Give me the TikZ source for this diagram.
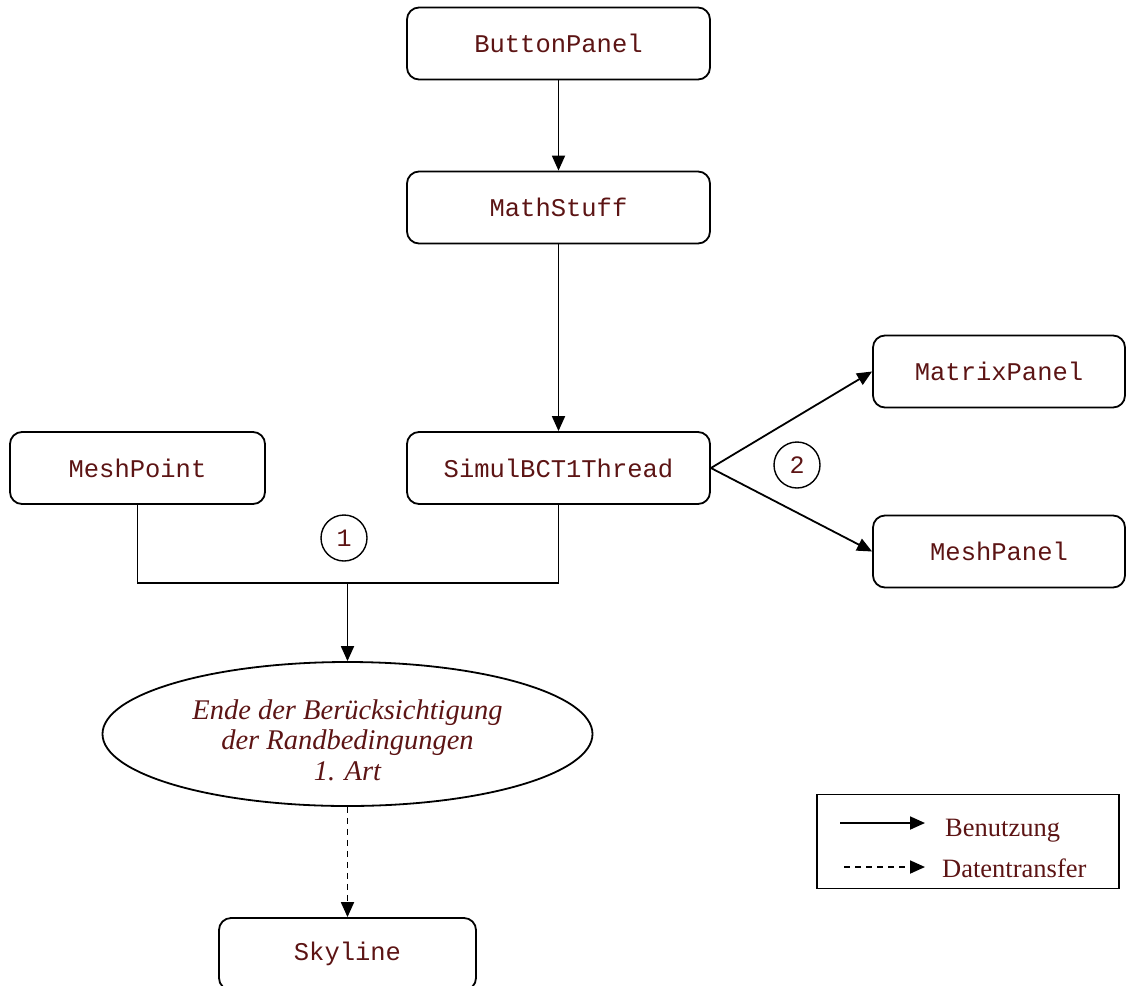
\documentclass[tikz,border=0pt]{standalone}
\usepackage{fontspec}
\setmainfont{Liberation Serif}
\newfontfamily\codefont{Liberation Mono}
\usetikzlibrary{arrows.meta,shapes.geometric}
\definecolor{txt}{HTML}{5C1414}
\begin{document}
\begin{tikzpicture}[x=1pt,y=-1pt,
  cls/.style={draw,line width=1.8pt,rounded corners=12pt,minimum height=72pt,
    inner sep=0pt,text=txt,font=\codefont\fontsize{25.5}{30}\selectfont},
  num/.style={draw,circle,line width=1.4pt,minimum size=46pt,inner sep=0pt,
    text=txt,font=\codefont\fontsize{25}{30}\selectfont},
  uses/.style={line width=1.8pt,-{Triangle[length=15pt,width=13pt]}},
  flow/.style={uses,dash pattern=on 6pt off 5pt},
  legtext/.style={anchor=base west,text=txt,font=\fontsize{26.5}{30}\selectfont,inner sep=0pt}]
\useasboundingbox (0,0) rectangle (1126,985);

% class boxes
\node[cls,minimum width=303pt] (bp)  at (558.5,43.5)  {ButtonPanel};
\node[cls,minimum width=303pt] (ms)  at (558.5,207.5) {MathStuff};
\node[cls,minimum width=303pt] (sim) at (558.5,468)   {SimulBCT1Thread};
\node[cls,minimum width=255pt] (mp)  at (137.5,468)   {MeshPoint};
\node[cls,minimum width=252pt] (mat) at (999,371.5)   {MatrixPanel};
\node[cls,minimum width=252pt] (mpn) at (999,551.5)   {MeshPanel};
\node[cls,minimum width=257pt] (sky) at (347.5,954)   {Skyline};

% end state
\node[draw,ellipse,line width=1.8pt,minimum width=490pt,minimum height=144pt,
  inner sep=0pt,text=txt,align=center,font=\itshape\fontsize{28.5}{30.5}\selectfont]
  (end) at (347.5,734) {\rule{0pt}{32pt}Ende der Berücksichtigung\\der Randbedingungen\\1. Art};

% step markers
\node[num] (n1) at (344,538) {1};
\node[num] (n2) at (797,465) {2};

% connectors
\draw[uses] (bp) -- (ms);
\draw[uses] (ms) -- (sim);
\coordinate (j) at (347.5,583);
\draw[line width=1.8pt] (mp.south) -- (mp.south |- j) -- (sim.south |- j) -- (sim.south);
\draw[uses] (j) -- (end.north);
\draw[uses] (sim.east) -- (mat.west);
\draw[uses] (sim.east) -- (mpn.west);
\draw[flow] (end.south) -- (sky.north);

% legend
\node[draw,line width=1.6pt,minimum width=302pt,minimum height=94pt,inner sep=0pt]
  (leg) at (968,841.5) {};
\coordinate (a1) at (840,823);
\coordinate (b1) at (925,823);
\coordinate (a2) at (844,867);
\coordinate (b2) at (925,867);
\draw[uses] (a1) -- (b1);
\draw[flow] (a2) -- (b2);
\node[legtext] (lt1) at (945,836) {Benutzung};
\node[legtext] (lt2) at (942,877) {Datentransfer};
\end{tikzpicture}
\end{document}
